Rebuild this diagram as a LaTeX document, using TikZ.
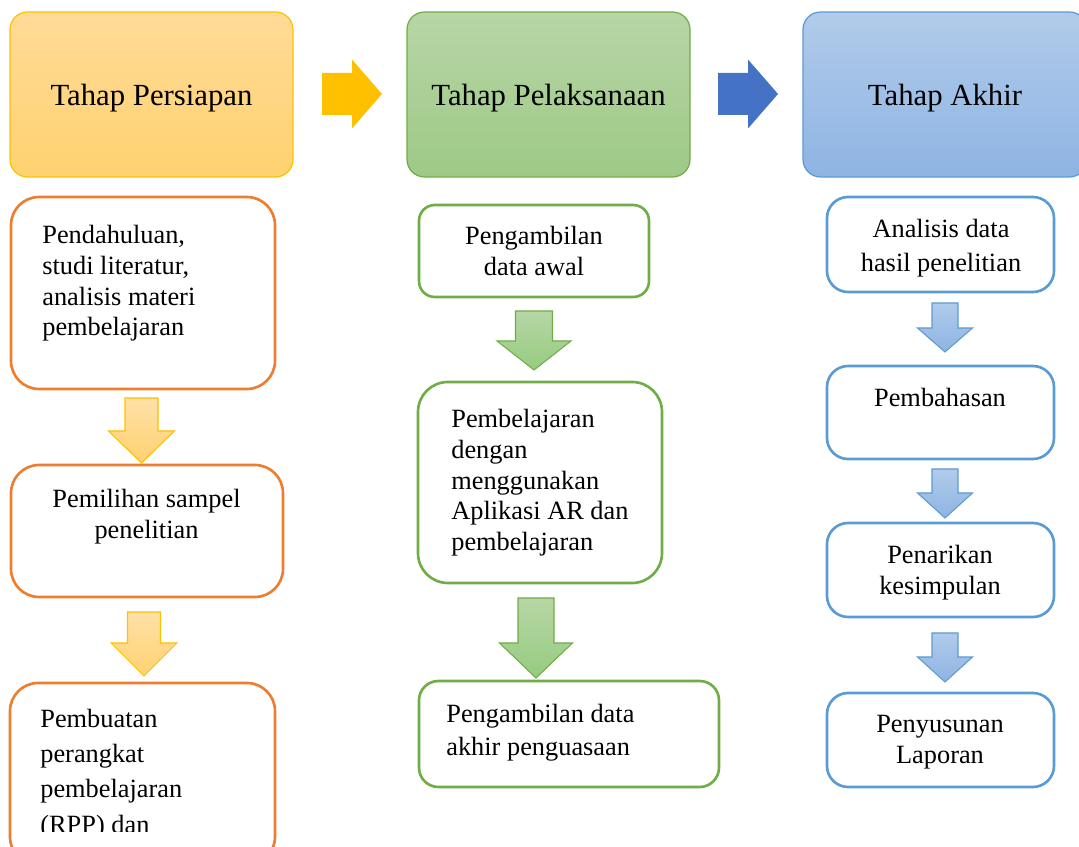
\documentclass[tikz,border=0pt]{standalone}
\usepackage{fontspec}
\setmainfont{Liberation Serif}
\usepackage{xcolor}
\usetikzlibrary{fit,positioning}

\definecolor{orangeline}{HTML}{ED7D31}
\definecolor{greenline}{HTML}{70AD47}
\definecolor{blueline}{HTML}{5B9BD5}
\definecolor{goldline}{HTML}{FFC000}
\definecolor{darkblue}{HTML}{4472C4}
\definecolor{orangetop}{RGB}{255,219,152}
\definecolor{orangebot}{RGB}{255,209,112}
\definecolor{greentop}{RGB}{183,214,166}
\definecolor{greenbot}{RGB}{158,201,134}
\definecolor{bluetop}{RGB}{177,203,234}
\definecolor{bluebot}{RGB}{142,180,227}

% block arrow pointing down: style, x centre, y top, y head, y tip, shaft half, head half
\newcommand{\blockdown}[7]{%
  \path[#1] ({#2-#6},#3) -- ({#2+#6},#3) -- ({#2+#6},#4) -- ({#2+#7},#4)
    -- (#2,#5) -- ({#2-#7},#4) -- ({#2-#6},#4) -- cycle;}
% block arrow pointing right: style, x left, x head, x tip, y centre, shaft half, head half
\newcommand{\blockright}[7]{%
  \path[#1] (#2,{#5-#6}) -- (#3,{#5-#6}) -- (#3,{#5-#7}) -- (#4,#5)
    -- (#3,{#5+#7}) -- (#3,{#5+#6}) -- (#2,{#5+#6}) -- cycle;}

\begin{document}
\begin{tikzpicture}[
    x=0.02cm, y=-0.02cm,
    phase/.style={draw, rounded corners=10pt, inner sep=0pt, line width=0.7pt},
    phasetext/.style={inner sep=0pt, yshift=-2.2pt, font=\fontsize{17.5}{21}\selectfont},
    stepbox/.style={draw, fill=white, inner sep=0pt, line width=1.5pt},
    steptext/.style={inner sep=0pt, font=\fontsize{15}{17.5}\selectfont},
    yellowdown/.style={draw=goldline, line width=0.6pt, top color=orangetop!85!white, bottom color=orangebot},
    greendown/.style={draw=greenline, line width=0.6pt, top color=greentop, bottom color=greenbot!95!green},
    bluedown/.style={draw=blueline, line width=0.6pt, top color=bluetop, bottom color=bluebot}
  ]
    \useasboundingbox (0,0) rectangle (1079,847);
    \clip (0,0) rectangle (1079,847);

    % Tahap
    \node[phase, draw=goldline, top color=orangetop, bottom color=orangebot,
      fit={(10,12) (293,177)}] (persiapan) {};
    \node[phase, draw=greenline, top color=greentop, bottom color=greenbot,
      fit={(407,12) (690,177)}] (pelaksanaan) {};
    \node[phase, draw=blueline, top color=bluetop, bottom color=bluebot,
      fit={(803,12) (1087,177)}] (akhir) {};
    \node[phasetext] (persiapant) at (persiapan.center) {Tahap Persiapan};
    \node[phasetext] (pelaksanaant) at (pelaksanaan.center) {Tahap Pelaksanaan};
    \node[phasetext] (akhirt) at (akhir.center) {Tahap Akhir};

    \blockright{fill=goldline}{322}{352}{382}{94}{21}{34.5}
    \blockright{fill=darkblue}{718}{748}{778}{94}{21}{34.5}

    % Persiapan
    \node[stepbox, draw=orangeline, rounded corners=16pt, fit={(11,197) (275,389)}] (prep1) {};
    \node[stepbox, draw=orangeline, rounded corners=16pt, fit={(11,465) (283,597)}] (prep2) {};
    \node[stepbox, draw=orangeline, rounded corners=16pt, fit={(10,683) (275,865)}] (prep3) {};
    \node[steptext, align=left, anchor=north west] (prep1t) at (42,225)
      {Pendahuluan,\\ studi literatur,\\ analisis materi\\ pembelajaran};
    \node[steptext, align=center, anchor=north] (prep2t) at (146.5,489)
      {Pemilihan sampel\\ penelitian};
    \begin{scope}
      \clip (0,683) rectangle (275,831);
      \node[steptext, align=left, anchor=north west, font=\fontsize{15}{20}\selectfont] (prep3t) at (40,709)
        {Pembuatan\\ perangkat\\ pembelajaran\\ (RPP) dan};
    \end{scope}
    \blockdown{yellowdown}{141.5}{398}{431}{463}{16.5}{33}
    \blockdown{yellowdown}{144}{612}{643}{676}{16.5}{33}

    % Pelaksanaan
    \node[stepbox, draw=greenline, rounded corners=9pt, fit={(419,205) (649,297)}] (exec1) {};
    \node[stepbox, draw=greenline, rounded corners=17pt, fit={(418,382) (662,583)}] (exec2) {};
    \node[stepbox, draw=greenline, rounded corners=11pt, fit={(419,681) (719,787)}] (exec3) {};
    \node[steptext, align=center, anchor=north] (exec1t) at (534,226)
      {Pengambilan\\ data awal};
    \node[steptext, align=left, anchor=north west] (exec2t) at (451,409)
      {Pembelajaran\\ dengan\\ menggunakan\\ Aplikasi AR dan\\ pembelajaran};
    \node[steptext, align=left, anchor=north west, font=\fontsize{15}{18.8}\selectfont] (exec3t) at (446,704)
      {Pengambilan data\\ akhir penguasaan};
    \blockdown{greendown}{534}{311}{341}{370}{18.5}{37}
    \blockdown{greendown}{536}{598}{643}{678}{18}{36.5}

    % Akhir
    \node[stepbox, draw=blueline, rounded corners=12pt, fit={(827,197) (1054,292)}] (end1) {};
    \node[stepbox, draw=blueline, rounded corners=12pt, fit={(827,366) (1054,459)}] (end2) {};
    \node[stepbox, draw=blueline, rounded corners=12pt, fit={(827,523) (1054,617)}] (end3) {};
    \node[stepbox, draw=blueline, rounded corners=12pt, fit={(827,693) (1054,787)}] (end4) {};
    \node[steptext, align=center, anchor=north, font=\fontsize{15}{19.5}\selectfont] (end1t) at (941,219)
      {Analisis data\\ hasil penelitian};
    \node[steptext, anchor=north] (end2t) at (940,388) {Pembahasan};
    \node[steptext, align=center, anchor=north] (end3t) at (940,545)
      {Penarikan\\ kesimpulan};
    \node[steptext, align=center, anchor=north] (end4t) at (940,715)
      {Penyusunan\\ Laporan};
    \blockdown{bluedown}{945}{303}{328}{352}{13}{27.5}
    \blockdown{bluedown}{945}{469}{493}{518}{13}{27.5}
    \blockdown{bluedown}{945}{633}{657}{682}{13}{27.5}
  \end{tikzpicture}
\end{document}
